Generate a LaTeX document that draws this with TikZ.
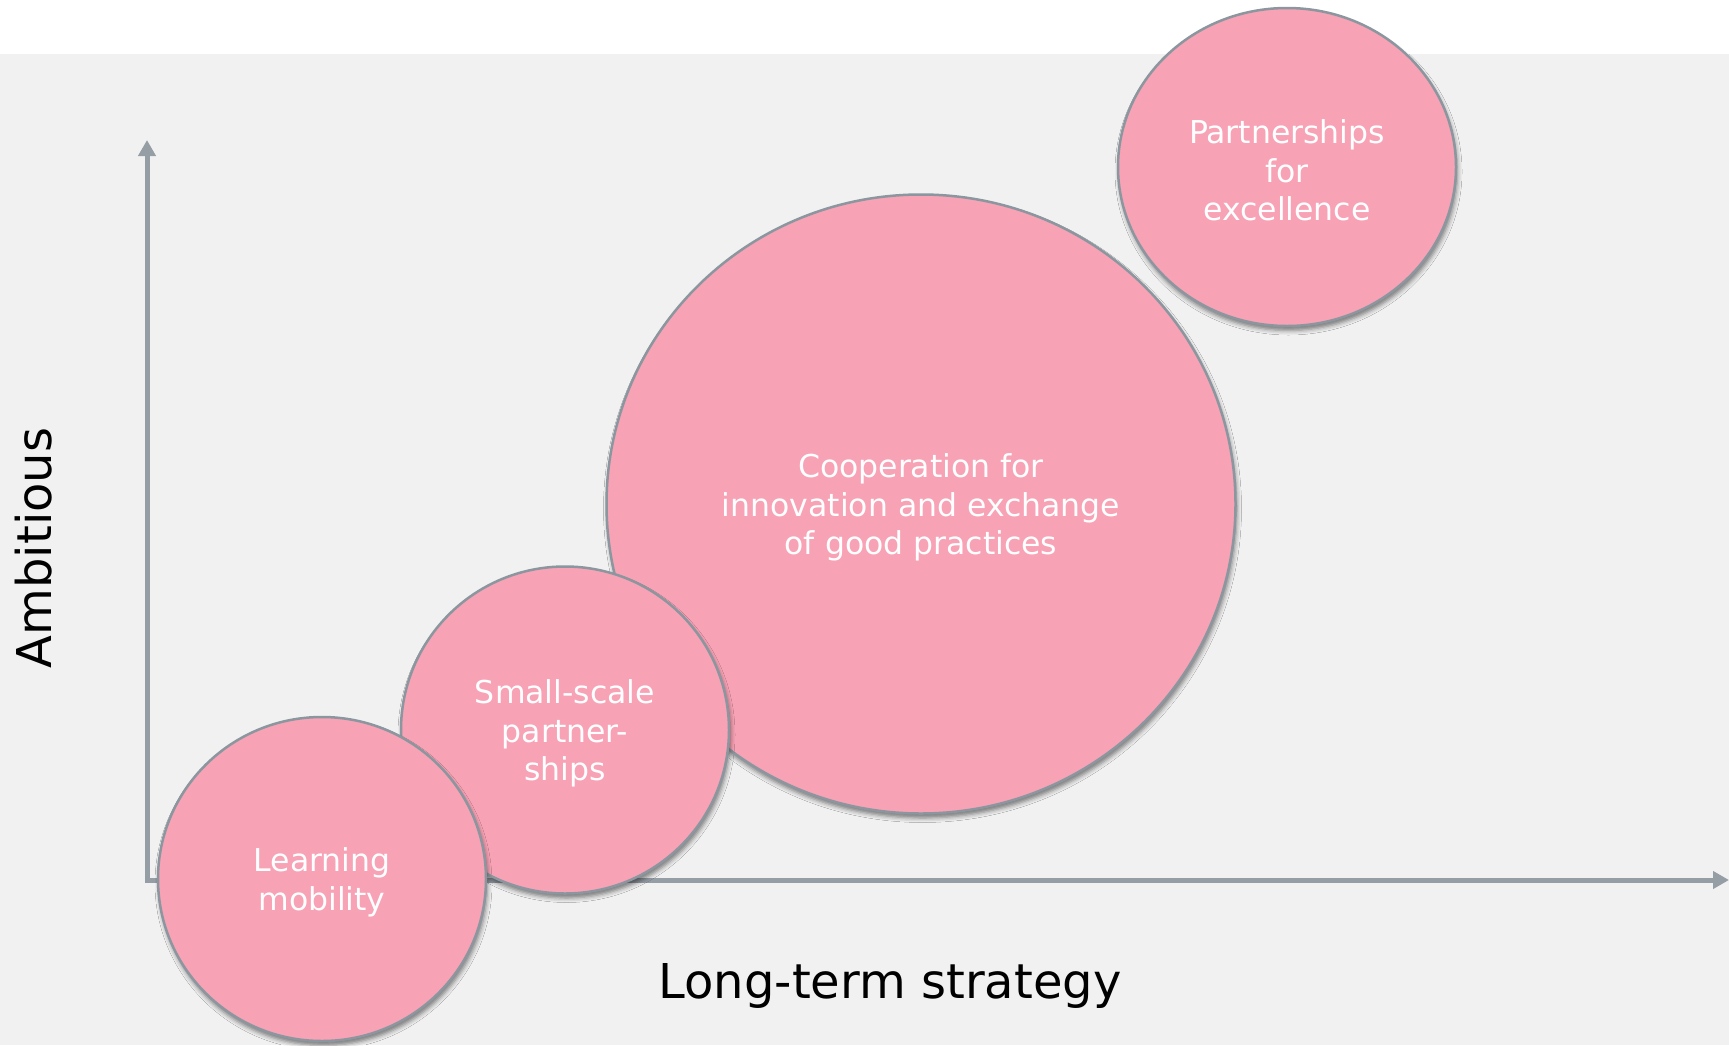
\documentclass[tikz,border=0pt]{standalone}
\usepackage{fontspec}
\setmainfont{DejaVu Sans}
\usetikzlibrary{shapes.geometric, arrows.meta, shadows.blur}
\definecolor{bubblepink}{HTML}{F7A2B5}
\definecolor{bubbleedge}{HTML}{8B969E}
\definecolor{axisgray}{HTML}{959DA5}
\definecolor{panelgray}{HTML}{F1F1F1}
\tikzset{
	bubble/.style={ellipse, draw=bubbleedge, line width=2.5pt, fill=bubblepink, inner sep=0pt,
		blur shadow={shadow xshift=1.5pt, shadow yshift=-4.5pt, shadow blur radius=4.5pt, shadow opacity=50}},
	bubbletext/.style={text=white, align=center, font=\fontsize{31.5}{38.6}\selectfont, yshift=-3.3pt},
	axisline/.style={axisgray, line width=5pt, {Triangle[length=16pt, width=17pt]}-{Triangle[length=16pt, width=17pt]}},
	axislabel/.style={font=\fontsize{48}{58}\selectfont, anchor=base}
}

\begin{document}
\begin{tikzpicture}[x=1pt, y=-1pt]
		\useasboundingbox (0,0) rectangle (1729,1045);
		\fill[panelgray] (0,54) rectangle (1729,1045);
		\coordinate (origin) at (147,880);
		\coordinate (ytip) at (147,140);
		\coordinate (xtip) at (1729,880);
		\draw[axisline] (ytip) -- (origin) -- (xtip);
		\node[bubble, minimum width=629pt, minimum height=619pt, label={[bubbletext]center:Cooperation for\\innovation and exchange\\of good practices}] (coop) at (921,504) {};
		\node[bubble, minimum width=338pt, minimum height=318pt, label={[bubbletext]center:Partnerships\\for\\excellence}] (excel) at (1287,167) {};
		\node[bubble, minimum width=328pt, minimum height=327pt, label={[bubbletext]center:Small-scale\\partner-\\ships}] (small) at (565,730) {};
		\node[bubble, minimum width=328pt, minimum height=324pt, label={[bubbletext]center:Learning\\mobility}] (mobility) at (322,879) {};
		\node[axislabel] (xlabel) at (890,998) {Long-term strategy};
		\node[axislabel, rotate=90] (ylabel) at (51,548) {Ambitious};
	\end{tikzpicture}
\end{document}
